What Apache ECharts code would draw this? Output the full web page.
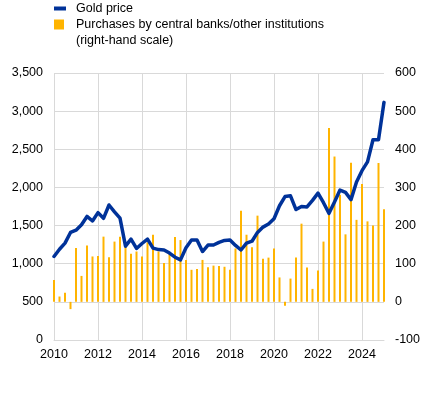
<!DOCTYPE html>
<html>
<head>
<meta charset="utf-8">
<script src="https://cdn.jsdelivr.net/npm/echarts@6/dist/echarts.min.js"></script>
<style>
  html, body { margin: 0; padding: 0; background: #fff; }
  #chart { width: 437px; height: 396px; }
</style>
</head>
<body>
<div id="chart"></div>
<script>
// quarterly data, 2010 Q1 - 2025 Q1 (x = year + quarter / 4)
const startYear = 2010;
const quarters = 61;

// gold price, USD per ounce (left-hand scale)
const goldPrice = [
  1095, 1190, 1270, 1410, 1440, 1510, 1620, 1560, 1670, 1595, 1770, 1680,
  1597, 1230, 1322, 1200, 1265, 1322, 1205, 1185, 1181, 1140, 1085, 1050,
  1210, 1312, 1312, 1160, 1245, 1245, 1280, 1305, 1312, 1240, 1180, 1270,
  1295, 1410, 1480, 1520, 1590, 1760, 1880, 1890, 1710, 1750, 1745, 1830,
  1925, 1800, 1660, 1810, 1965, 1935, 1840, 2070, 2220, 2335, 2625, 2625,
  3115
];

// purchases by central banks/other institutions, tonnes (right-hand scale)
const purchases = [
  57, 14, 24, -19, 141, 68, 148, 119, 120, 171, 117, 158,
  171, 147, 126, 132, 119, 156, 176, 132, 102, 127, 170, 162,
  110, 84, 86, 110, 91, 95, 94, 92, 84, 140, 239, 176,
  143, 226, 113, 116, 140, 64, -10, 61, 116, 205, 90, 34,
  82, 158, 456, 381, 281, 177, 365, 215, 309, 211, 200, 364,
  243
];

const nameGold = 'Gold price';
const namePurch = 'Purchases by central banks/other institutions';
const purchNote = '(right-hand scale)';

const xs = [];
for (let i = 0; i < quarters; i++) xs.push(startYear + i / 4);

const textColor = '#000';
const gridColor = '#d9d9d9';
const fontFamily = 'Liberation Sans, Arial, sans-serif';

const myChart = echarts.init(document.getElementById('chart'));
const option = {
  animation: false,
  textStyle: { fontFamily: fontFamily, color: textColor },
  // second line of the purchases legend entry
  title: {
    text: purchNote,
    left: 76,
    top: 34,
    padding: 0,
    textStyle: { fontSize: 12.5, fontWeight: 'normal', color: textColor, fontFamily: fontFamily }
  },
  legend: [
    {
      data: [nameGold],
      left: 54,
      top: 2,
      padding: 0,
      icon: 'rect',
      itemWidth: 12,
      itemHeight: 4,
      textStyle: { fontSize: 12.5, color: textColor, padding: [0, 0, 0, 5] }
    },
    {
      data: [namePurch],
      left: 54,
      top: 18,
      padding: 0,
      icon: 'rect',
      itemWidth: 10,
      itemHeight: 10,
      textStyle: { fontSize: 12.5, color: textColor, padding: [0, 0, 0, 7] }
    }
  ],
  grid: {
    left: 54,
    right: 53,
    top: 73,
    bottom: 56,
    containLabel: false
  },
  xAxis: {
    type: 'value',
    min: 2010,
    max: 2025,
    interval: 2,
    axisLine: { show: true, lineStyle: { color: gridColor } },
    axisTick: { show: false },
    axisLabel: {
      color: textColor,
      fontSize: 12.5,
      margin: 8,
      showMaxLabel: false,
      formatter: v => String(v)
    },
    splitLine: { show: true, showMaxLine: false, lineStyle: { color: gridColor } }
  },
  yAxis: [
    {
      type: 'value',
      min: 0,
      max: 3500,
      interval: 500,
      axisLine: { show: false },
      axisTick: { show: false },
      axisLabel: {
        color: textColor,
        fontSize: 12.5,
        margin: 11,
        formatter: v => v.toLocaleString('en-US')
      },
      splitLine: { show: true, lineStyle: { color: gridColor } }
    },
    {
      type: 'value',
      min: -100,
      max: 600,
      interval: 100,
      axisLine: { show: false },
      axisTick: { show: false },
      axisLabel: { color: textColor, fontSize: 12.5, margin: 11 },
      splitLine: { show: false }
    }
  ],
  series: [
    {
      name: namePurch,
      type: 'bar',
      yAxisIndex: 1,
      barWidth: 2,
      itemStyle: { color: '#ffb400' },
      data: purchases.map((v, i) => [xs[i], v]),
      z: 2
    },
    {
      name: nameGold,
      type: 'line',
      yAxisIndex: 0,
      showSymbol: false,
      symbol: 'none',
      lineStyle: { color: '#003299', width: 3.5, join: 'round', cap: 'round' },
      itemStyle: { color: '#003299' },
      data: goldPrice.map((v, i) => [xs[i], v]),
      z: 3
    }
  ]
};
myChart.setOption(option);
</script>
</body>
</html>
